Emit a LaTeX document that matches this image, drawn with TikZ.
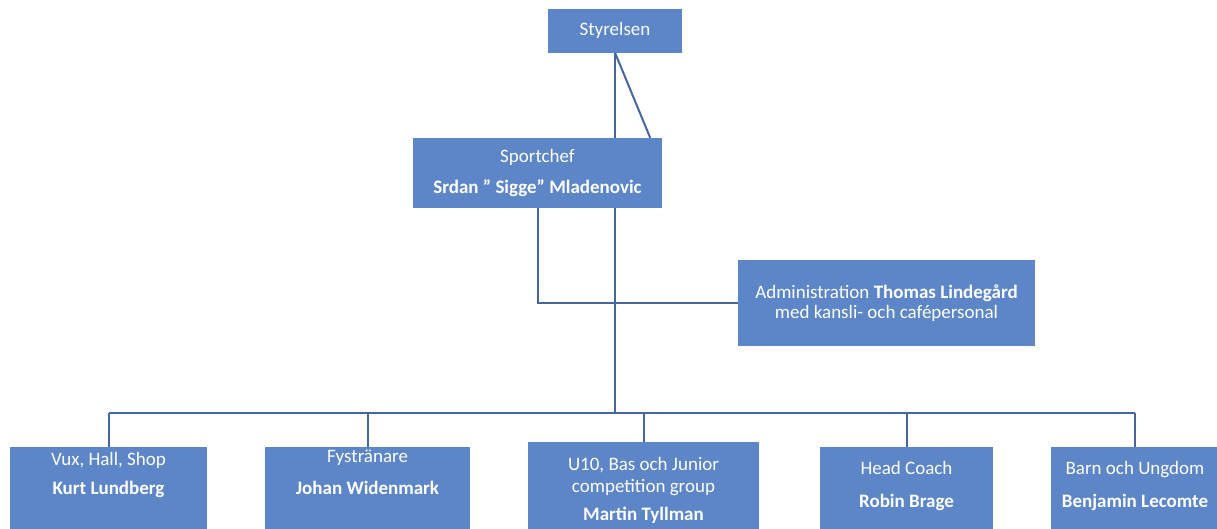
\documentclass[tikz,border=0pt]{standalone}
\usepackage{fontspec}
\setmainfont{Carlito}
\usetikzlibrary{calc}

\definecolor{boxblue}{RGB}{92,134,199}
\definecolor{linkblue}{RGB}{70,102,160}

\begin{document}
\begin{tikzpicture}[x=1pt, y=-1pt,
  box/.style={fill=boxblue, text=white, align=center, inner sep=0pt,
    font=\fontsize{19}{23}\selectfont},
  link/.style={linkblue, line width=2pt}]
\useasboundingbox (0,0) rectangle (1217,528);
\clip (0,0) rectangle (1217,528);
% top of the chart
\node[box, minimum width=134, minimum height=44] (sty) at (615,30.5) {Styrelsen};
\node[box, minimum width=249, minimum height=70] (spc) at (537.5,173)
  {Sportchef\\[8pt]\textbf{Srdan ” Sigge” Mladenovic}};
\node[box, minimum width=297, minimum height=86] (adm) at (886.5,303)
  {Administration \textbf{Thomas Lindegård}\\[-3pt]med kansli- och cafépersonal};
% bottom row, boxes run off the page
\foreach \n/\x/\y/\w/\p/\t in {
  b1/108.5/447/197/5/{Vux, Hall, Shop\\[6pt]\textbf{Kurt Lundberg}},
  b2/367.5/447/205/3/{Fystränare\\[9pt]\textbf{Johan Widenmark}},
  b3/643.5/442/231/15/{U10, Bas och Junior\\[-1pt]competition group\\[5pt]\textbf{Martin Tyllman}},
  b4/906.5/447/173/14/{Head Coach\\[10pt]\textbf{Robin Brage}},
  b5/1135/447/168/14/{Barn och Ungdom\\[10pt]\textbf{Benjamin Lecomte}}}
 \node[box, anchor=north, minimum width=\w, inner ysep=\p, text depth=60pt] (\n) at (\x,\y) {\t};
\coordinate (bar) at (615,413);
\draw[link] (sty.south) -- (sty.south |- spc.north);
\draw[link] (sty.south) -- ($(spc.north east)+(-12,0)$);
\draw[link] (spc.south) -- (spc.south |- adm.west) -- (adm.west);
\draw[link] (sty.south |- spc.south) -- (bar);
\draw[link] (b1.north |- bar) -- (b5.north |- bar);
\foreach \n in {b1,b2,b3,b4,b5}
 \draw[link] (\n.north |- bar) -- (\n.north);
\end{tikzpicture}
\end{document}
